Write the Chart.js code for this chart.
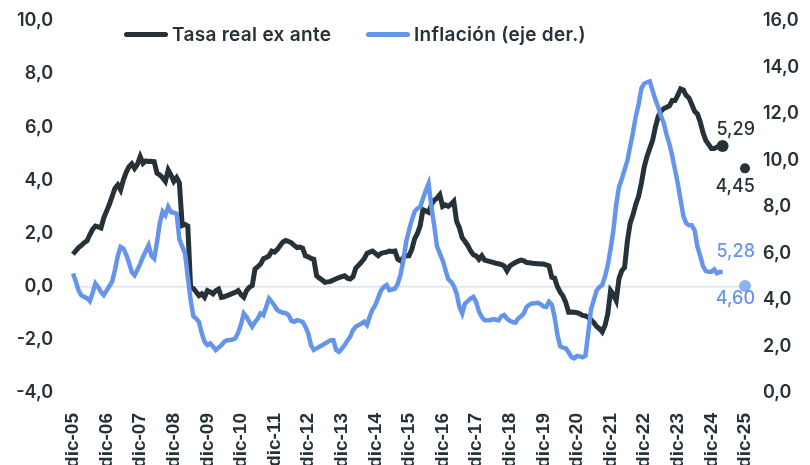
<!DOCTYPE html>
<html lang="es">
<head>
<meta charset="utf-8">
<script src="https://cdn.jsdelivr.net/npm/chart.js@4.4.1/dist/chart.umd.min.js"></script>
<style>
  html, body { margin: 0; padding: 0; background: #fff; overflow: hidden; }
  #wrap { position: relative; width: 810px; height: 465px; overflow: hidden; }
  #chart { position: absolute; left: 0; top: -10px; }
  .legend { position: absolute; top: 23px; left: 0; font: 600 19px Inter, sans-serif; letter-spacing: 0.3px; color: #263238; }
  .legend-item { position: absolute; display: flex; align-items: center; white-space: nowrap; }
  .legend-line { width: 44px; height: 5px; border-radius: 3px; margin-right: 4px; }
</style>
</head>
<body>
<div id="wrap">
  <canvas id="chart" width="810" height="475"></canvas>
  <div class="legend">
    <div class="legend-item" style="left:124px"><span class="legend-line" style="background:#263238"></span>Tasa real ex ante</div>
    <div class="legend-item" style="left:366px"><span class="legend-line" style="background:#6595eb"></span>Inflación (eje der.)</div>
  </div>
</div>
<script>
const DARK = "#263238";
const BLUE = "#6595eb";
const BLUE_LIGHT = "#8fb1ef";

// months dic-05 .. dic-25
const MONTHS = ["ene", "feb", "mar", "abr", "may", "jun", "jul", "ago", "sep", "oct", "nov", "dic"];
const FIRST_YEAR = 2005;
const LAST_YEAR = 2025;

// Tasa real ex ante (eje izq.), mensual desde dic-05
const TASA_REAL = [
  1.22, 1.35, 1.47, 1.55, 1.65, 1.72, 1.95, 2.15, 2.28, 2.25, 2.21, 2.59,
  2.84, 3.10, 3.40, 3.70, 3.83, 3.64, 4.02, 4.30, 4.51, 4.62, 4.45, 4.60,
  4.89, 4.64, 4.73, 4.71, 4.72, 4.70, 4.27, 4.20, 4.10, 3.96, 4.39, 4.20,
  3.96, 4.10, 3.90, 2.30, 2.34, 2.28, -0.02, -0.07, -0.20, -0.34, -0.27, -0.40,
  -0.15, -0.20, -0.27, -0.15, -0.09, -0.40, -0.38, -0.34, -0.30, -0.25, -0.21, -0.15,
  -0.30, -0.40, -0.15, -0.02, 0.04, 0.66, 0.75, 0.85, 1.05, 1.10, 1.16, 1.34,
  1.30, 1.40, 1.55, 1.68, 1.74, 1.70, 1.65, 1.55, 1.47, 1.49, 1.45, 1.16,
  1.12, 1.06, 1.03, 0.41, 0.32, 0.25, 0.16, 0.18, 0.20, 0.25, 0.30, 0.34,
  0.38, 0.41, 0.32, 0.29, 0.37, 0.70, 0.80, 0.92, 1.05, 1.25, 1.30, 1.34,
  1.25, 1.16, 1.25, 1.28, 1.30, 1.34, 1.32, 1.34, 1.03, 0.97, 1.10, 1.16,
  1.16, 1.40, 1.80, 2.00, 2.30, 2.90, 2.85, 2.80, 3.08, 3.25, 3.33, 3.46,
  3.02, 3.08, 3.02, 3.10, 3.21, 2.46, 2.21, 1.84, 1.70, 1.55, 1.34, 1.20,
  1.16, 1.03, 1.16, 1.00, 0.97, 0.94, 0.91, 0.88, 0.86, 0.83, 0.78, 0.60,
  0.78, 0.85, 0.91, 0.96, 1.00, 0.97, 0.91, 0.90, 0.88, 0.87, 0.86, 0.85,
  0.85, 0.82, 0.78, 0.35, 0.32, 0.00, -0.21, -0.35, -0.60, -0.96, -0.95, -0.96,
  -0.98, -1.02, -1.08, -1.10, -1.15, -1.25, -1.35, -1.50, -1.58, -1.70, -1.46, -1.02,
  -0.15, -0.30, -0.52, 0.30, 0.60, 0.72, 1.72, 2.40, 2.70, 3.10, 3.40, 3.90,
  4.50, 4.90, 5.20, 5.50, 6.00, 6.40, 6.60, 6.70, 6.75, 6.80, 7.00, 7.00,
  7.20, 7.44, 7.40, 7.19, 7.10, 6.85, 6.60, 6.50, 6.20, 5.80, 5.50, 5.35,
  5.20, 5.20, 5.25, 5.28, 5.29
];

// Inflación anual (eje der.), mensual desde dic-05
const INFLACION = [
  5.14, 4.80, 4.40, 4.20, 4.13, 4.08, 3.95, 4.30, 4.71, 4.55, 4.35, 4.21,
  4.40, 4.60, 4.80, 5.30, 5.90, 6.28, 6.21, 5.95, 5.60, 5.20, 5.06, 5.30,
  5.55, 5.85, 6.10, 6.35, 5.90, 5.78, 6.50, 7.30, 7.80, 7.64, 8.00, 7.78,
  7.75, 7.71, 6.60, 6.30, 6.00, 5.00, 4.00, 3.30, 3.20, 3.05, 2.56, 2.20,
  2.06, 2.13, 2.00, 1.85, 1.95, 2.06, 2.20, 2.27, 2.28, 2.30, 2.35, 2.60,
  2.95, 3.42, 3.27, 3.05, 2.85, 3.05, 3.20, 3.42, 3.35, 3.70, 4.06, 3.92,
  3.75, 3.56, 3.50, 3.45, 3.43, 3.35, 3.10, 3.06, 3.13, 3.10, 3.06, 2.85,
  2.56, 2.06, 1.85, 1.92, 1.99, 2.05, 2.13, 2.20, 2.27, 2.27, 1.85, 1.77,
  1.90, 2.06, 2.25, 2.42, 2.70, 2.85, 2.92, 2.98, 3.06, 2.92, 3.30, 3.60,
  3.78, 4.10, 4.40, 4.56, 4.64, 4.42, 4.45, 4.49, 4.70, 5.10, 5.71, 6.50,
  7.00, 7.42, 7.80, 7.93, 8.00, 8.36, 8.70, 9.00, 8.00, 7.20, 6.30, 6.00,
  5.71, 5.30, 4.90, 4.78, 4.60, 4.28, 3.70, 3.42, 3.85, 3.95, 4.06, 4.13,
  3.90, 3.50, 3.27, 3.13, 3.13, 3.13, 3.18, 3.15, 3.13, 3.30, 3.35, 3.20,
  3.10, 3.05, 3.02, 3.20, 3.30, 3.42, 3.70, 3.80, 3.85, 3.86, 3.88, 3.82,
  3.72, 3.70, 3.92, 3.80, 3.27, 2.50, 2.00, 1.95, 1.92, 1.75, 1.55, 1.49,
  1.59, 1.57, 1.53, 1.60, 2.56, 3.60, 3.99, 4.40, 4.55, 4.64, 5.00, 5.50,
  6.20, 7.00, 8.10, 8.85, 9.20, 9.60, 10.00, 10.60, 11.20, 11.90, 12.40, 13.10,
  13.30, 13.36, 13.40, 13.00, 12.60, 12.29, 11.90, 11.60, 11.10, 10.70, 10.20, 9.60,
  9.00, 8.30, 7.60, 7.30, 7.21, 7.21, 7.00, 6.30, 5.90, 5.45, 5.25, 5.21,
  5.21, 5.31, 5.15, 5.20, 5.20
];

// valores proyectados a dic-25 y etiquetas de cierre
const PROY_TASA_REAL = 4.45;
const PROY_INFLACION = 4.60;
const ETIQ_TASA_ULTIMA = "5,29";
const ETIQ_INFL_ULTIMA = "5,28";
const ETIQ_TASA_PROY = "4,45";
const ETIQ_INFL_PROY = "4,60";

const labels = [];
labels.push("dic-" + String(FIRST_YEAR).slice(2));
for (let y = FIRST_YEAR + 1; y <= LAST_YEAR; y++) {
  MONTHS.forEach((m) => labels.push(m + "-" + String(y).slice(2)));
}
const lastIdx = TASA_REAL.length - 1;
const projIdx = labels.length - 1;
const projReal = labels.map((_, i) => (i === projIdx ? PROY_TASA_REAL : null));
const projInfl = labels.map((_, i) => (i === projIdx ? PROY_INFLACION : null));

const fmt = (v) => v.toFixed(1).replace(".", ",");

const endLabels = {
  id: "endLabels",
  afterDatasetsDraw(chart) {
    const { ctx, scales } = chart;
    const xEnd = scales.x.getPixelForValue(projIdx) + 10;
    const items = [
      [ETIQ_TASA_ULTIMA, DARK, scales.y.getPixelForValue(TASA_REAL[lastIdx]) - 16],
      [ETIQ_TASA_PROY, DARK, scales.y.getPixelForValue(PROY_TASA_REAL) + 18],
      [ETIQ_INFL_ULTIMA, BLUE, scales.y1.getPixelForValue(INFLACION[lastIdx]) - 20],
      [ETIQ_INFL_PROY, BLUE, scales.y1.getPixelForValue(PROY_INFLACION) + 13],
    ];
    ctx.save();
    ctx.font = "500 18px Inter, sans-serif";
    ctx.textAlign = "right";
    ctx.textBaseline = "middle";
    items.forEach(([txt, color, y]) => {
      ctx.fillStyle = color;
      ctx.fillText(txt, xEnd, y);
    });
    ctx.restore();
  },
};

new Chart(document.getElementById("chart"), {
  type: "line",
  data: {
    labels,
    datasets: [
      {
        label: "Inflación (eje der.)",
        data: INFLACION,
        yAxisID: "y1",
        borderColor: BLUE,
        borderWidth: 4.5,
        pointRadius: 0,
        tension: 0,
        order: 1,
      },
      {
        label: "Tasa real ex ante",
        data: TASA_REAL,
        yAxisID: "y",
        borderColor: DARK,
        backgroundColor: DARK,
        borderWidth: 5,
        pointRadius: TASA_REAL.map((_, i) => (i === lastIdx ? 6 : 0)),
        pointBackgroundColor: DARK,
        pointBorderWidth: 0,
        tension: 0,
        order: 2,
      },
      {
        data: projReal,
        yAxisID: "y",
        showLine: false,
        pointRadius: 5,
        pointBorderWidth: 0,
        pointBackgroundColor: DARK,
        order: 0,
      },
      {
        data: projInfl,
        yAxisID: "y1",
        showLine: false,
        pointRadius: 6,
        pointBorderWidth: 0,
        pointBackgroundColor: BLUE_LIGHT,
        order: 0,
      },
    ],
  },
  options: {
    responsive: false,
    animation: false,
    layout: { padding: { left: 0, right: 0, top: 0, bottom: 0 } },
    plugins: { legend: { display: false }, tooltip: { enabled: false } },
    scales: {
      x: {
        grid: { display: false },
        border: { display: false },
        afterFit: (s) => { s.height = 72; },
        ticks: {
          autoSkip: false,
          minRotation: 90,
          maxRotation: 90,
          padding: 12,
          color: DARK,
          font: { family: "'Liberation Sans', Arial, sans-serif", size: 19, weight: "bold" },
          callback: (v, i) => (labels[i].startsWith("dic") ? labels[i] : ""),
        },
      },
      y: {
        position: "left",
        min: -4,
        max: 10,
        border: { display: false },
        afterFit: (s) => { s.width = 73; },
        grid: {
          drawTicks: false,
          color: (c) => (c.tick && c.tick.value === 0 ? "#dde3e9" : "transparent"),
          lineWidth: 1.5,
        },
        ticks: {
          stepSize: 2,
          padding: 20,
          color: DARK,
          font: { family: "Inter, sans-serif", size: 18, weight: "600" },
          callback: (v) => fmt(v),
        },
      },
      y1: {
        position: "right",
        min: 0,
        max: 16,
        border: { display: false },
        afterFit: (s) => { s.width = 65; },
        grid: { display: false, drawTicks: false },
        ticks: {
          stepSize: 2,
          padding: 18,
          color: DARK,
          font: { family: "Inter, sans-serif", size: 18, weight: "600" },
          callback: (v) => fmt(v),
        },
      },
    },
  },
  plugins: [endLabels],
});
</script>
</body>
</html>
